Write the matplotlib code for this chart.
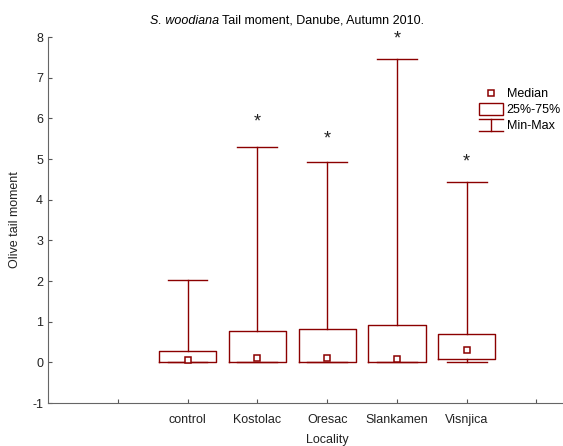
import matplotlib
matplotlib.use("Agg")
import matplotlib.pyplot as plt
from matplotlib.lines import Line2D
from matplotlib.patches import Rectangle
from matplotlib.legend_handler import HandlerBase

plt.rcParams['font.family'] = ['Liberation Sans', 'DejaVu Sans']
plt.rcParams['axes.unicode_minus'] = False

localities = ['control', 'Kostolac', 'Oresac', 'Slankamen', 'Visnjica']
positions = [2, 3, 4, 5, 6]
mins = [0.0, 0.0, 0.0, 0.0, 0.0]
q1 = [0.0, 0.0, 0.0, 0.0, 0.07]
medians = [0.05, 0.10, 0.10, 0.07, 0.31]
q3 = [0.27, 0.76, 0.81, 0.93, 0.69]
maxs = [2.03, 5.29, 4.92, 7.46, 4.43]
star_pos = [3, 4, 5, 6]
star_y = [5.92, 5.50, 7.94, 4.92]

red = '#8B0000'
fs = 9


class HandlerMinMax(HandlerBase):
    def create_artists(self, legend, orig_handle, xdescent, ydescent,
                       width, height, fontsize, trans):
        x0, x1 = -xdescent, -xdescent + width
        xm = (x0 + x1) / 2
        y0, y1 = -ydescent - 1, -ydescent + height + 1
        kw = dict(color=red, lw=1, transform=trans)
        return [Line2D([x0, x1], [y1, y1], **kw),
                Line2D([xm, xm], [y0, y1], **kw),
                Line2D([x0, x1], [y0, y0], **kw)]


class HandlerBox(HandlerBase):
    def create_artists(self, legend, orig_handle, xdescent, ydescent,
                       width, height, fontsize, trans):
        r = Rectangle((-xdescent, -ydescent - 1), width, height + 2,
                      fc='white', ec=red, lw=1, transform=trans)
        return [r]


stats = []
for i in range(len(localities)):
    stats.append(dict(whislo=mins[i], q1=q1[i], med=medians[i],
                      q3=q3[i], whishi=maxs[i], label=localities[i]))

fig = plt.figure(figsize=(5.63, 4.46), dpi=100)
ax = fig.add_axes([0.0853, 0.0964, 0.9147, 0.8206])

ax.bxp(stats, positions=positions, widths=0.82, showfliers=False,
       boxprops=dict(color=red, lw=1),
       whiskerprops=dict(color=red, lw=1),
       capprops=dict(color=red, lw=1),
       medianprops=dict(visible=False),
       capwidths=0.57)
ax.plot(positions, medians, 's', ms=4, mfc='white', mec=red, mew=1.1,
        linestyle='none')

for x, y in zip(star_pos, star_y):
    ax.text(x, y, '*', ha='center', va='center', fontsize=13, color='#222222')

ax.set_xlim(0, 7.38)
ax.set_ylim(-1, 8)
ax.set_xticks([1, 2, 3, 4, 5, 6, 7])
ax.set_xticklabels([''] + localities + [''])
ax.set_yticks(range(-1, 9))
ax.tick_params(direction='in', length=3, labelsize=fs, colors='#555555',
               labelcolor='#222222')
ax.tick_params(axis='x', pad=8)
for s in ['top', 'right']:
    ax.spines[s].set_visible(False)
for s in ['left', 'bottom']:
    ax.spines[s].set_color('#666666')

ax.set_ylabel('Olive tail moment', fontsize=fs, color='#222222')
ax.yaxis.set_label_coords(-0.052, 0.5)
ax.set_xlabel('Locality', fontsize=fs, color='#222222')
ax.xaxis.set_label_coords(0.542, -0.085)

fig.text(219 / 563, 0.953, 'S. woodiana', style='italic',
         ha='right', va='center', fontsize=fs)
fig.text(222 / 563, 0.953, 'Tail moment, Danube, Autumn 2010.',
         ha='left', va='center', fontsize=fs)

med_handle = Line2D([], [], marker='s', ms=4, mfc='white', mec=red,
                    mew=1.1, linestyle='none')
box_handle = Rectangle((0, 0), 1, 1)
mm_handle = Line2D([], [])
ax.legend([med_handle, box_handle, mm_handle],
          ['Median', '25%-75%', 'Min-Max'],
          handler_map={box_handle: HandlerBox(), mm_handle: HandlerMinMax()},
          loc='upper left', bbox_to_anchor=(0.825, 0.877), frameon=False,
          fontsize=fs, handlelength=1.9, handletextpad=0.3,
          labelspacing=0.32, borderpad=0)

fig.savefig('out.png', dpi=100)
